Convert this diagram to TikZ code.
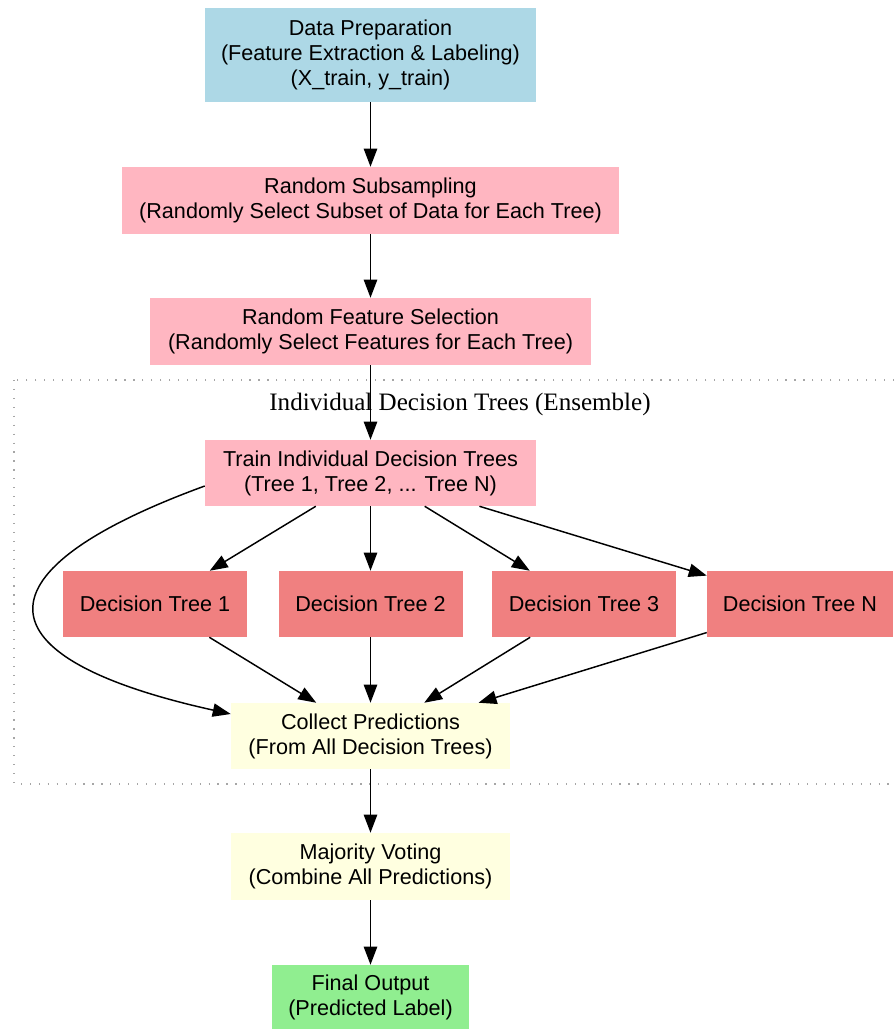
\documentclass[tikz,border=0pt]{standalone}
\usepackage{fontspec}
\setmainfont{Liberation Serif}
\setsansfont{Liberation Sans}
\usetikzlibrary{arrows.meta,calc}
\definecolor{lblue}{HTML}{ADD8E6}
\definecolor{lpink}{HTML}{FFB6C1}
\definecolor{lcoral}{HTML}{F08080}
\definecolor{lyellow}{HTML}{FFFFE0}
\definecolor{lgreen}{HTML}{90EE90}
\begin{document}
\begin{tikzpicture}[x=0.75pt,y=-0.75pt,
  box/.style={inner sep=0pt, align=center, font=\sffamily\fontsize{16.2}{18.75}\selectfont},
  arr/.style={-{Triangle[length=13.5pt,width=10pt]}, line width=1.1pt},
  clusterline/.style={draw=gray!70, line width=0.9pt, dash pattern=on 0.9pt off 5.8pt}]
\useasboundingbox (0,0) rectangle (894,1029);
% cluster
\draw[clusterline] (14,380) rectangle (912,784);
\node[font=\rmfamily\fontsize{18.8}{22}\selectfont, inner sep=0pt] (clabel) at (460,404) {Individual Decision Trees (Ensemble)};
% nodes
\node[box, fill=lblue, minimum width=248.25pt, minimum height=70.5pt] (data) at (370.5,55) {Data Preparation\\(Feature Extraction \& Labeling)\\(X\_train, y\_train)};
\node[box, fill=lpink, minimum width=372.75pt, minimum height=50.25pt] (sub) at (370.5,200.5) {Random Subsampling\\(Randomly Select Subset of Data for Each Tree)};
\node[box, fill=lpink, minimum width=330.75pt, minimum height=50.25pt] (feat) at (370.5,331.5) {Random Feature Selection\\(Randomly Select Features for Each Tree)};
\node[box, fill=lpink, minimum width=248.25pt, minimum height=49.5pt] (train) at (370.5,473) {Train Individual Decision Trees\\(Tree 1, Tree 2, ... Tree N)};
\node[box, fill=lcoral, minimum width=138pt, minimum height=49.5pt] (dt1) at (155,604) {Decision Tree 1};
\node[box, fill=lcoral, minimum width=138pt, minimum height=49.5pt] (dt2) at (370.5,604) {Decision Tree 2};
\node[box, fill=lcoral, minimum width=138pt, minimum height=49.5pt] (dt3) at (584,604) {Decision Tree 3};
\node[box, fill=lcoral, minimum width=139.5pt, minimum height=49.5pt] (dtn) at (800,604) {Decision Tree N};
\node[box, fill=lyellow, minimum width=209.25pt, minimum height=49.5pt] (collect) at (370.5,736) {Collect Predictions\\(From All Decision Trees)};
\node[box, fill=lyellow, minimum width=209.25pt, minimum height=50.25pt] (vote) at (370.5,866.5) {Majority Voting\\(Combine All Predictions)};
\node[box, fill=lgreen, minimum width=147.75pt, minimum height=48pt] (final) at (370.5,997) {Final Output\\(Predicted Label)};
% edges
\draw[arr] (data) -- (sub);
\draw[arr] (sub) -- (feat);
\draw[arr] (feat) -- (train);
\draw[arr] (train) -- (dt1);
\draw[arr] (train) -- (dt2);
\draw[arr] (train) -- (dt3);
\draw[arr] (train) -- (dtn);
\draw[arr] ($(train.west)+(0,13)$) .. controls (-25,570) and (-27,657) .. ($(collect.west)+(0,-22)$);
\draw[arr] (dt1) -- (collect);
\draw[arr] (dt2) -- (collect);
\draw[arr] (dt3) -- (collect);
\draw[arr] (dtn) -- (collect);
\draw[arr] (collect) -- (vote);
\draw[arr] (vote) -- (final);
\end{tikzpicture}
\end{document}
